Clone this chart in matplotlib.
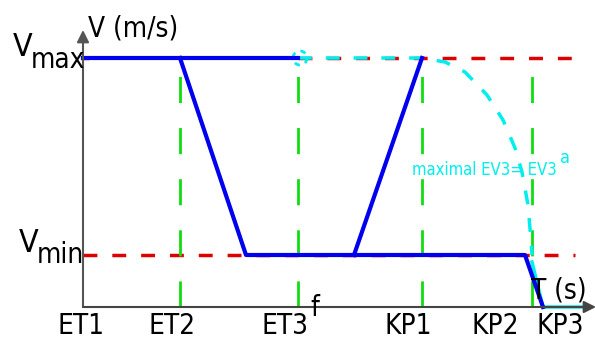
import numpy as np
import matplotlib.pyplot as plt

plt.rcParams['font.family'] = ['DejaVu Sans']
plt.rcParams['font.stretch'] = 'condensed'

# schematic speed profile, in drawing units (x = time, y = speed, y grows downward)
tick_labels = ['ET1', 'ET2', 'ET3', 'KP1', 'KP2', 'KP3']
tick_pos = [83, 180, 298, 422, 532, 542]
label_x = [81, 172, 285, 408, 495, 560]
v_max = 58
v_min = 255
v_zero = 307

# blue profile pieces
top_t = [83, 298]
main_t = [180, 246, 525, 543]
main_v = [v_max, v_min, v_min, v_zero]
ramp_t = [354, 422]
ramp_v = [v_min, v_max]

# cyan "maximal" curve
cyan_t = [298, 422, 445, 465, 487, 503, 515, 522, 528, 531, 532]
cyan_v = [v_max, v_max, 62, 72, 95, 120, 148, 172, 205, 240, 255]
cyan_end_t = [532, 543, 583]
cyan_end_v = [262, v_zero, v_zero]

fig = plt.figure(figsize=(5.95, 3.42), dpi=100)
ax = fig.add_axes([0, 0, 1, 1])
ax.set_xlim(0, 595)
ax.set_ylim(342, 0)
ax.axis('off')

# reference lines
ax.plot([83, 575], [v_min, v_min], color='#dd0000', lw=2.5, linestyle=(0, (4, 4.3)))
ax.plot([298, 575], [v_max, v_max], color='#dd0000', lw=2.5, linestyle=(0, (4, 4.3)))
ax.plot([83, 87], [v_max, v_max], color='#dd0000', lw=2.5)
for x in tick_pos[1:5]:
    ax.plot([x, x], [v_zero, v_max], color='#11dd11', lw=2, linestyle=(0, (9.4, 9)))

# axes with arrows
ax.annotate('', xy=(83, 30), xytext=(83, v_zero), annotation_clip=False,
            arrowprops=dict(arrowstyle='-|>', color='#555555', lw=1.5, mutation_scale=18,
                            shrinkA=0, shrinkB=0))
ax.annotate('', xy=(596, v_zero), xytext=(83, v_zero), annotation_clip=False,
            arrowprops=dict(arrowstyle='-|>', color='#444444', lw=1.5, mutation_scale=18,
                            shrinkA=0, shrinkB=0))

# cyan curve
ax.plot(cyan_t, cyan_v, color='#00eeee', lw=2.5, linestyle=(0, (4, 4)))
ax.plot(cyan_end_t, cyan_end_v, color='#00eeee', lw=2.5)
th = np.linspace(0, 2 * np.pi, 40)
ax.plot(300 + 7 * np.cos(th), v_max + 7 * np.sin(th), color='#00eeee', lw=2, linestyle=(0, (2, 2)))

# blue profile
ax.plot(top_t, [v_max, v_max], color='#0000ee', lw=3)
ax.plot(main_t, main_v, color='#0000ee', lw=3)
ax.plot(ramp_t, ramp_v, color='#0000ee', lw=3)

fs = 20
for lab, x in zip(tick_labels, label_x):
    ax.text(x, 326, lab, fontsize=fs, ha='center', va='center')
ax.text(310, 308, 'f', fontsize=fs, ha='left', va='center')
ax.text(88, 28, 'V (m/s)', fontsize=fs, ha='left', va='center')
ax.text(13, 48, 'V', fontsize=fs + 3, ha='left', va='center')
ax.text(31, 60, 'max', fontsize=fs, ha='left', va='center')
ax.text(19, 243, 'V', fontsize=fs + 3, ha='left', va='center')
ax.text(37, 255, 'min', fontsize=fs, ha='left', va='center')
ax.text(531, 290, 'T (s)', fontsize=fs, ha='left', va='center')
ax.text(412, 170, 'maximal EV3= EV3', fontsize=12, color='#00eeee', ha='left', va='center')
ax.text(560, 158, 'a', fontsize=13, color='#00eeee', ha='left', va='center')

fig.savefig('out.png', dpi=100)
